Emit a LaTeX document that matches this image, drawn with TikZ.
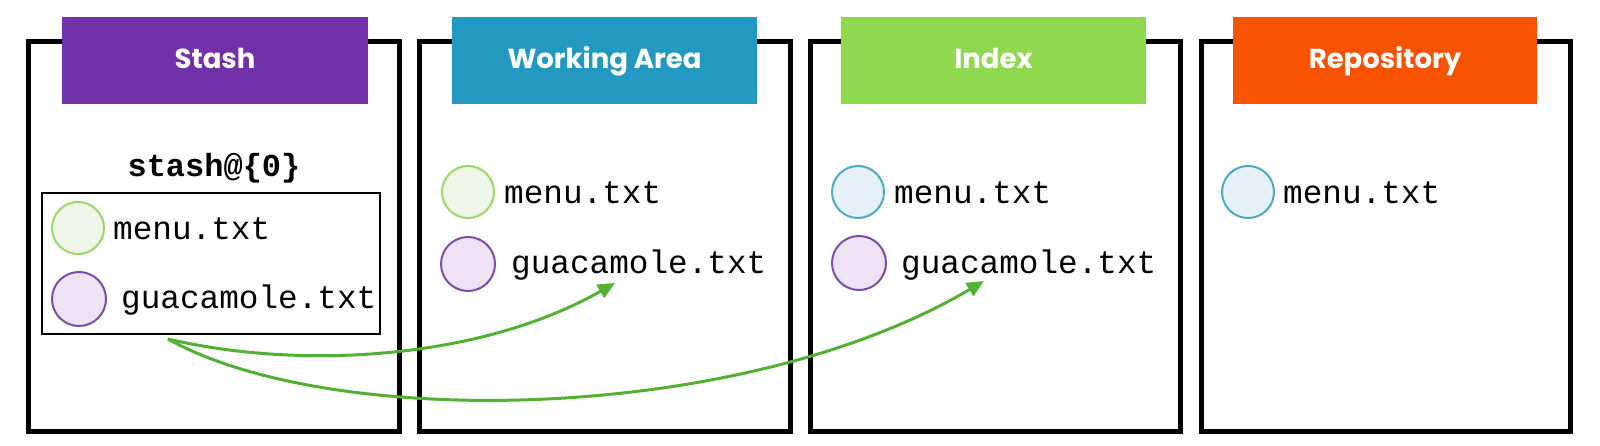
\documentclass[tikz,border=0pt]{standalone}
\usepackage{fontspec}
\setmainfont{Poppins}
\newfontfamily\hdrfont{Poppins}
\newfontfamily\monofont{Liberation Mono}
\usetikzlibrary{arrows.meta}
\definecolor{cstash}{HTML}{7131A8}
\definecolor{cwork}{HTML}{2399C1}
\definecolor{cindex}{HTML}{8FD84F}
\definecolor{crepo}{HTML}{F65200}
\definecolor{gstroke}{HTML}{9AD86A}
\definecolor{gfill}{HTML}{EFF5E9}
\definecolor{pstroke}{HTML}{7A4DAB}
\definecolor{pfill}{HTML}{EEE3F5}
\definecolor{bstroke}{HTML}{4FA9C4}
\definecolor{bfill}{HTML}{E6F0F8}
\definecolor{arrgreen}{HTML}{52B034}
\tikzset{
  frame/.style={draw=black, line width=5pt},
  hdrtext/.style={anchor=base, text=white, font=\hdrfont\fontsize{27.5}{32}\selectfont\bfseries, inner sep=0pt},
  fcirc/.style={circle, minimum size=52pt, inner sep=0pt, line width=2pt},
  gcirc/.style={fcirc, draw=gstroke, fill=gfill},
  pcirc/.style={fcirc, draw=pstroke, fill=pfill},
  bcirc/.style={fcirc, draw=bstroke, fill=bfill},
  fname/.style={anchor=base west, inner sep=0pt, font=\monofont\fontsize{32.7}{38}\selectfont},
  arr/.style={draw=arrgreen, line width=3pt, -{Triangle[length=17pt,width=15pt]}},
}
\begin{document}
\begin{tikzpicture}[x=1pt,y=-1pt]
\useasboundingbox[fill=white] (0,0) rectangle (1600,446);
% frames
\draw[frame] (28.5,42) rectangle (399,431);
\draw[frame] (419,42) rectangle (790,431);
\draw[frame] (810.5,42) rectangle (1180,431);
\draw[frame] (1201,42) rectangle (1570,431);
% headers
\fill[cstash] (62,17) rectangle (368,104);
\fill[cwork] (452,17) rectangle (757,104);
\fill[cindex] (841,17) rectangle (1146,104);
\fill[crepo] (1233,17) rectangle (1537,104);
\node[hdrtext] (hs) at (215,69) {Stash};
\node[hdrtext] (hw) at (604.5,69) {Working Area};
\node[hdrtext] (hi) at (993.5,69) {Index};
\node[hdrtext] (hr) at (1385,69) {Repository};
% stash content
\node[anchor=base, inner sep=0pt, font=\monofont\fontsize{32}{38}\selectfont\bfseries] (st0) at (214,177) {stash@\{0\}};
\draw[line width=2.5pt] (42,193) rectangle (380,334);
\node[gcirc] (sc1) at (78,228) {};
\node[fname] (sm) at (113,240) {menu.txt};
\node[pcirc, minimum size=54pt] (sc2) at (79,299) {};
\node[fname] (sg) at (121,308) {guacamole.txt};
% working area
\node[gcirc] (wc1) at (468,192) {};
\node[fname] (wm) at (504,204) {menu.txt};
\node[pcirc, minimum size=54pt] (wc2) at (468,264) {};
\node[fname] (wg) at (511,273) {guacamole.txt};
% index
\node[bcirc] (ic1) at (858,192) {};
\node[fname] (im) at (894,204) {menu.txt};
\node[pcirc, minimum size=54pt] (ic2) at (859,263) {};
\node[fname] (ig) at (901,273) {guacamole.txt};
% repository
\node[bcirc] (rc1) at (1248,192) {};
\node[fname] (rm) at (1283,204) {menu.txt};
% arrows
\coordinate (src) at (168,339);
\coordinate (wtip) at (615,283);
\coordinate (itip) at (984,281);
\draw[arr] (src) .. controls (300,370) and (480,360) .. (wtip);
\draw[arr] (src) .. controls (330,430) and (740,425) .. (itip);
\end{tikzpicture}
\end{document}
